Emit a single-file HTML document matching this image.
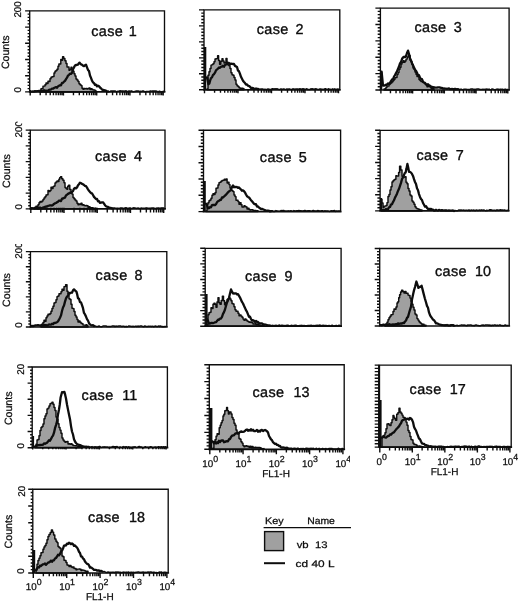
<!DOCTYPE html>
<html lang="en"><head><meta charset="utf-8"><title>FL1-H histograms</title>
<style>html,body{margin:0;padding:0;background:#fff}svg{display:block}text{font-family:'Liberation Sans', Arial, Helvetica, sans-serif;fill:#0d0d0d;text-rendering:geometricPrecision}.b{stroke:#0d0d0d;stroke-width:.36px}.s{stroke:#0d0d0d;stroke-width:.25px}</style></head><body>
<svg width="520" height="602" viewBox="0 0 520 602">
<rect width="520" height="602" fill="#fff"/>
<g><polygon points="40,91.9 40,90.2 41,90.2 41,88.8 42,88.8 42,88.5 43,88.5 43,86.1 44,86.1 44,86.1 45,86.1 45,84.7 46,84.7 46,82.9 47,82.9 47,83.4 48,83.4 48,81.1 49,81.1 49,81.4 50,81.4 50,78.8 51,78.8 51,77.3 52,77.3 52,76.8 53,76.8 53,76.5 54,76.5 54,72.9 55,72.9 55,71.2 56,71.2 56,70.4 57,70.4 57,69.3 58,69.3 58,66.2 58.9,66.2 58.9,64 59.8,64 59.8,64 60.8,64 60.8,59.5 61.7,59.5 61.7,60.2 62.6,60.2 62.6,56.8 63.7,56.8 63.7,58.5 64.9,58.5 64.9,60.7 66,60.7 66,63.4 67,63.4 67,66.9 68,66.9 68,67 69,67 69,70.2 70,70.2 70,69.2 71,69.2 71,67.2 72,67.2 72,70.2 73,70.2 73,71.2 74,71.2 74,73.7 75,73.7 75,75.9 76,75.9 76,79 77,79 77,80 78,80 78,81.4 79,81.4 79,83.7 80,83.7 80,84.7 81,84.7 81,85.6 82,85.6 82,88.2 83,88.2 83,89.3 84,89.3 84,88.4 85,88.4 85,88.7 86,88.7 86,88.4 87,88.4 87,88.9 88,88.9 88,88.4 89,88.4 89,88 90,88 90,89.5 91,89.5 91,88.6 92,88.6 92,89.4 93,89.4 93,90.1 94,90.1 94,89.9 95,89.9 95,90.6 96,90.6 96,91 96,91.9" fill="#a0a0a0" stroke="#0d0d0d" stroke-width="1.45" stroke-linejoin="round"/><polyline points="30,91.1 31,91.7 32,91.7 33,91.5 34,91.7 35,91.1 36,91.4 37,91.2 38,91.1 39,91 40,91.3 41,91.3 42,90.8 43,90.9 44,90.2 45,90.8 46,90.7 47,91 48,90.7 49,89.8 50,89.6 51,89.5 52,88.6 53,88.7 54,88 55,87.5 56,87.1 57,87.7 58,86.4 59,85.7 60,85.2 61,85.3 62,83 63,82.9 64,81.6 65,80.8 66,79.1 67,77.7 68,75.6 69,74.8 70,73.7 71,73.8 72,72.9 73,69.3 74,67.4 75,65.5 75.9,65 76.8,65 77.8,64.7 78.7,63.6 79.6,62.6 80.7,64.1 81.9,64.7 83,65.7 84,66.2 85,65.3 86,64.6 87,67.3 88,69.9 89,71.1 90,75.5 91,77.9 92,80.7 93,82.3 94,83.1 95,84.8 96,84.7 97,86.3 98,85.7 99,86.3 100,87.5 101,88.3 102,89.4 103,90 104,90.1 105,90.5 106,90.7 107,91.2 108,91.6" fill="none" stroke="#0d0d0d" stroke-width="2.3" stroke-linejoin="round" stroke-linecap="round"/><polyline points="108,91.2 109,91.7 110,91.5 111,91 112,91.1 113,91.1 114,91.1 115,90.9 116,91.5 117,91.7 118,91.2 119.1,91.2 120.1,90.8 121.1,90.9 122.1,91.1 123.1,91 124.1,91.5 125.1,90.9 126.1,90.8 127.1,91.6 128.2,91.3 129.2,90.9 130.2,91.3 131.2,90.8 132.2,91.3 133.2,91.7 134.2,91.6 135.2,91.4 136.2,91 137.2,91.1 138.2,91 139.3,91.5 140.3,91.3 141.3,91.5 142.3,91.1 143.3,91 144.3,91.5 145.3,91.7 146.3,91.6 147.3,91.5 148.3,91.6 149.4,91.5 150.4,91 151.4,91.3 152.4,91.1 153.4,90.9 154.4,90.9 155.4,91.1 156.4,91.1 157.4,91.5 158.4,91.7 159.5,91.2 160.5,91.7 161.5,91.7 162.5,91.7 163.5,91.3" fill="none" stroke="#0d0d0d" stroke-width="1.5" stroke-linejoin="round" stroke-linecap="round"/><path d="M29.7,91.9V10.9H164.5V91.9" fill="none" stroke="#0d0d0d" stroke-width="1.35" stroke-linejoin="miter"/><line x1="28.9" y1="91.9" x2="165.4" y2="91.9" stroke="#0d0d0d" stroke-width="1.7"/><path d="M29.7,91.9h-4.6M29.7,88.66h-2.1M29.7,85.42h-2.1M29.7,82.18h-2.1M29.7,78.94h-2.1M29.7,75.7h-4.6M29.7,72.46h-2.1M29.7,69.22h-2.1M29.7,65.98h-2.1M29.7,62.74h-2.1M29.7,59.5h-4.6M29.7,56.26h-2.1M29.7,53.02h-2.1M29.7,49.78h-2.1M29.7,46.54h-2.1M29.7,43.3h-4.6M29.7,40.06h-2.1M29.7,36.82h-2.1M29.7,33.58h-2.1M29.7,30.34h-2.1M29.7,27.1h-4.6M29.7,23.86h-2.1M29.7,20.62h-2.1M29.7,17.38h-2.1M29.7,14.14h-2.1M29.7,10.9h-4.6" stroke="#0d0d0d" stroke-width="1.4" fill="none"/><path d="M30.2,91.9v3.6M40.21,91.9v3.3M46.06,91.9v3.3M50.22,91.9v3.3M53.44,91.9v3.3M56.07,91.9v3.3M58.3,91.9v3.3M60.23,91.9v3.3M61.93,91.9v3.3M63.45,91.9v3.6M73.46,91.9v3.3M79.31,91.9v3.3M83.47,91.9v3.3M86.69,91.9v3.3M89.32,91.9v3.3M91.55,91.9v3.3M93.48,91.9v3.3M95.18,91.9v3.3M96.7,91.9v3.6M106.71,91.9v3.3M112.56,91.9v3.3M116.72,91.9v3.3M119.94,91.9v3.3M122.57,91.9v3.3M124.8,91.9v3.3M126.73,91.9v3.3M128.43,91.9v3.3M129.95,91.9v3.6M139.96,91.9v3.3M145.81,91.9v3.3M149.97,91.9v3.3M153.19,91.9v3.3M155.82,91.9v3.3M158.05,91.9v3.3M159.98,91.9v3.3M161.68,91.9v3.3M163.2,91.9v3.6" stroke="#0d0d0d" stroke-width="1.4" fill="none"/><text y="35.8" font-size="14.4" class="b"><tspan x="91.2" letter-spacing=".4">case</tspan><tspan x="136.7" text-anchor="end">1</tspan></text><g><text transform="translate(21.4,17.6) rotate(-90)" font-size="9.8" class="s">200</text></g><text transform="translate(21.1,89.9) rotate(-90)" font-size="9.8" text-anchor="middle" class="s">0</text><text transform="translate(9.2,52.3) rotate(-90)" font-size="10.6" text-anchor="middle" class="s">Counts</text></g>
<g><polygon points="207,89.8 207,88.9 208,88.9 208,75.2 209,75.2 209,71.8 210,71.8 210,68.4 211,68.4 211,65.1 212,65.1 212,64.6 213,64.6 213,63.7 214,63.7 214,61.8 215,61.8 215,58.9 215.9,58.9 215.9,58.8 216.7,58.8 216.7,58.6 217.6,58.6 217.6,55.8 218.6,55.8 218.6,60.5 219.6,60.5 219.6,64.2 220.8,64.2 220.8,61.3 222,61.3 222,58.8 223,58.8 223,60.9 224,60.9 224,63 225,63 225,62.4 226,62.4 226,58.5 227,58.5 227,62.2 228,62.2 228,65.1 229,65.1 229,65.7 230,65.7 230,68.4 231,68.4 231,72.7 232,72.7 232,74.7 233,74.7 233,75.3 234,75.3 234,77.5 235,77.5 235,80 236,80 236,84.2 237,84.2 237,85.7 238,85.7 238,86.5 239,86.5 239,87.7 240,87.7 240,88.2 241,88.2 241,88.1 242,88.1 242,88.2 243,88.2 243,88.7 244,88.7 244,89 244,89.8" fill="#a0a0a0" stroke="#0d0d0d" stroke-width="1.45" stroke-linejoin="round"/><polyline points="207,77.3 208.4,84.2 209.3,83.6 210.1,80.6 211,78.1 212,77.4 213,74.9 214,74.2 215,72.7 216,70.4 217,69.5 218,68.6 219,67.5 220,67.8 221,66.7 222,66.6 223,65.7 224,66.8 225,65 226,64.4 227,63.9 228,63.8 229,63 230,64.2 231,63.6 232,63.9 233,64 234,64 235,65.9 236,66.4 237,67 238,70.6 239,71.3 240,73.9 241,76.8 242,78.8 243,80.7 244,82 245,83.1 246,84.5 247,84.4 248,85.7 249,86 250,86.7 251,87.9 252,87.8 253,88.1 254,88.5 255,88.8 256,88.5 257,88.9 258,89" fill="none" stroke="#0d0d0d" stroke-width="2.3" stroke-linejoin="round" stroke-linecap="round"/><polyline points="258,89 259,89 260,89.2 261,89 262,89.1 263,89.1 264,89.5 265,89.3 266,89.4 267,89.5 268,88.9 269,89.2 270,89.5 271,89.4 272,88.8 273,88.8 274,89.1 275,88.7 276,88.9 277,88.7 278,89.3 279,89.4 280,89.5 281,88.8 281.9,89.3 282.9,89.3 283.9,88.8 284.9,89.5 285.9,89.6 286.9,88.9 287.9,89.5 288.9,89 289.9,89.1 290.9,89.6 291.9,89.4 292.9,88.8 293.9,89.1 294.9,89.2 295.9,89 296.9,88.9 297.9,89 298.9,89.3 299.9,88.7 300.9,89.2 301.9,89.1 302.9,88.7 303.9,89 304.9,89.3 305.9,89.2 306.9,88.8 307.9,89.6 308.9,89.4 309.9,89.6 310.9,88.8 311.9,89 312.9,88.8 313.9,89.4 314.9,89 315.9,88.8 316.9,89.1 317.9,89.5 318.9,89.5 319.9,89 320.8,88.9 321.8,89.6 322.8,89.2 323.8,89.4 324.8,88.8 325.8,88.8 326.8,89.4 327.8,89.1 328.8,88.8 329.8,89.6 330.8,89.3 331.8,89.5 332.8,88.8 333.8,89.5 334.8,88.8 335.8,89.5 336.8,89.2 337.8,89.1 338.8,89.2" fill="none" stroke="#0d0d0d" stroke-width="1.5" stroke-linejoin="round" stroke-linecap="round"/><rect x="204" y="47" width="2.3" height="42.8" fill="#0d0d0d"/><path d="M204,89.8V9.9H339.8V89.8" fill="none" stroke="#0d0d0d" stroke-width="1.35" stroke-linejoin="miter"/><line x1="203.2" y1="89.8" x2="340.7" y2="89.8" stroke="#0d0d0d" stroke-width="1.7"/><path d="M204,89.8h-5M204,86.6h-2.7M204,83.41h-2.7M204,80.21h-2.7M204,77.02h-2.7M204,73.82h-5M204,70.62h-2.7M204,67.43h-2.7M204,64.23h-2.7M204,61.04h-2.7M204,57.84h-5M204,54.64h-2.7M204,51.45h-2.7M204,48.25h-2.7M204,45.06h-2.7M204,41.86h-5M204,38.66h-2.7M204,35.47h-2.7M204,32.27h-2.7M204,29.08h-2.7M204,25.88h-5M204,22.68h-2.7M204,19.49h-2.7M204,16.29h-2.7M204,13.1h-2.7M204,9.9h-5" stroke="#0d0d0d" stroke-width="1.4" fill="none"/><path d="M204.5,89.8v3.4M214.58,89.8v3M220.48,89.8v3M224.67,89.8v3M227.92,89.8v3M230.57,89.8v3M232.81,89.8v3M234.75,89.8v3M236.47,89.8v3M238,89.8v3.4M248.08,89.8v3M253.98,89.8v3M258.17,89.8v3M261.42,89.8v3M264.07,89.8v3M266.31,89.8v3M268.25,89.8v3M269.97,89.8v3M271.5,89.8v3.4M281.58,89.8v3M287.48,89.8v3M291.67,89.8v3M294.92,89.8v3M297.57,89.8v3M299.81,89.8v3M301.75,89.8v3M303.47,89.8v3M305,89.8v3.4M315.08,89.8v3M320.98,89.8v3M325.17,89.8v3M328.42,89.8v3M331.07,89.8v3M333.31,89.8v3M335.25,89.8v3M336.97,89.8v3M338.5,89.8v3.4" stroke="#0d0d0d" stroke-width="1.4" fill="none"/><text y="34.4" font-size="14.4" class="b"><tspan x="256.7" letter-spacing=".4">case</tspan><tspan x="303.5" text-anchor="end">2</tspan></text></g>
<g><polygon points="384,90 384,89 385,89 385,88.6 386,88.6 386,87.2 387,87.2 387,86.1 388,86.1 388,86.1 389,86.1 389,84.6 390,84.6 390,83.4 391,83.4 391,82.7 392,82.7 392,81.7 393,81.7 393,80.5 394,80.5 394,79.2 395,79.2 395,77.6 396,77.6 396,77.4 397,77.4 397,74.4 398,74.4 398,72.6 399,72.6 399,69.2 400,69.2 400,67.3 401,67.3 401,64 402,64 402,62.3 403,62.3 403,60.8 404,60.8 404,62.2 405,62.2 405,60.9 406,60.9 406,59.1 407.2,59.1 407.2,56.9 408.4,56.9 408.4,55.3 409.3,55.3 409.3,55.5 410.1,55.5 410.1,60.3 411,60.3 411,61.8 412,61.8 412,64.5 413,64.5 413,68 414,68 414,69.2 415,69.2 415,72 416,72 416,74.2 417,74.2 417,76.6 418,76.6 418,76.3 419,76.3 419,79.4 420,79.4 420,80.6 421,80.6 421,81.4 422,81.4 422,81.7 423,81.7 423,82.5 424,82.5 424,82.7 425,82.7 425,84.1 426,84.1 426,85.1 427,85.1 427,86.8 428,86.8 428,86.4 429,86.4 429,86.6 430,86.6 430,87 431,87 431,88.2 432,88.2 432,88.6 433,88.6 433,88.8 434,88.8 434,89 434,90" fill="#a0a0a0" stroke="#0d0d0d" stroke-width="1.45" stroke-linejoin="round"/><polyline points="381.6,71.6 383,85.7 384,85.5 385,85.4 386,84.7 387,84.9 388,83.5 389,83.9 390,82.9 391,81.1 392,79.5 393,79.4 394,76.6 395,75.2 396,73 397,71.3 398,68.9 399,66.5 400,63.4 401,62 402,59 403,57.5 404,56.8 405,57.1 406,56.1 407,53 408,50.6 409,54 410,58.2 411,60.4 412,63.2 413,65.3 414,67.4 415,69.8 416,70.8 417,72.7 418,75.4 419,75.1 420,77.6 421,78.9 422,79.1 423,81.6 424,82.5 425,82.9 426,84 427,85 428,84.2 429,85.3 430,85.7 431,86.6 432,86.9 433,87.3 434,87.2 435,87.6 436,87.6 437,87.7 438,87.4 439,87.3 440,87.5 441,87.9 442,87.8 443,88.6 444,88.5 445,88.6 446,88.7 447,88.8 448,88.7 449,88.3 450,89.1 451,89.1 452,89 453,89.1 454,89.3 455,88.8 456,89.5 457,89.1 458,89.4" fill="none" stroke="#0d0d0d" stroke-width="2.3" stroke-linejoin="round" stroke-linecap="round"/><polyline points="458,89 459,89.2 460,89.6 461,89.1 462,89.5 463,89.7 464,89.3 465,89.2 466,89.3 467,89.5 468,89.6 469,89.4 470,89.4 471,88.9 472,89 473,89.1 474,89.5 475,89.2 476,89.4 477,88.9 478,88.9 479,89.1 480,89.5 481,89.5 482,89.5 483,89.2 484,89.4 485,89.3 486.1,89.3 487.1,89 488.1,89.7 489.1,89.1 490.1,89.8 491.1,89.8 492.1,88.9 493.1,89.3 494.1,89.7 495.1,89.8 496.1,89.3 497.1,89.2 498.1,89.1 499.1,89.8 500.1,89.1 501.1,89.5 502.1,89.1 503.1,89.4 504.1,89.8 505.1,89.1 506.1,89.7 507.1,89.4 508.1,89.4" fill="none" stroke="#0d0d0d" stroke-width="1.5" stroke-linejoin="round" stroke-linecap="round"/><rect x="380.4" y="72" width="1.9" height="18" fill="#0d0d0d"/><path d="M380.4,90V8.1H509.1V90" fill="none" stroke="#0d0d0d" stroke-width="1.35" stroke-linejoin="miter"/><line x1="379.6" y1="90" x2="510" y2="90" stroke="#0d0d0d" stroke-width="1.7"/><path d="M380.4,90h-5M380.4,86.72h-2.7M380.4,83.45h-2.7M380.4,80.17h-2.7M380.4,76.9h-2.7M380.4,73.62h-5M380.4,70.34h-2.7M380.4,67.07h-2.7M380.4,63.79h-2.7M380.4,60.52h-2.7M380.4,57.24h-5M380.4,53.96h-2.7M380.4,50.69h-2.7M380.4,47.41h-2.7M380.4,44.14h-2.7M380.4,40.86h-5M380.4,37.58h-2.7M380.4,34.31h-2.7M380.4,31.03h-2.7M380.4,27.76h-2.7M380.4,24.48h-5M380.4,21.2h-2.7M380.4,17.93h-2.7M380.4,14.65h-2.7M380.4,11.38h-2.7M380.4,8.1h-5" stroke="#0d0d0d" stroke-width="1.4" fill="none"/><path d="M380.9,90v3.6M390.45,90v3.2M396.04,90v3.2M400,90v3.2M403.07,90v3.2M405.59,90v3.2M407.71,90v3.2M409.55,90v3.2M411.17,90v3.2M412.62,90v3.6M422.18,90v3.2M427.76,90v3.2M431.73,90v3.2M434.8,90v3.2M437.31,90v3.2M439.44,90v3.2M441.28,90v3.2M442.9,90v3.2M444.35,90v3.6M453.9,90v3.2M459.49,90v3.2M463.45,90v3.2M466.52,90v3.2M469.04,90v3.2M471.16,90v3.2M473,90v3.2M474.62,90v3.2M476.07,90v3.6M485.63,90v3.2M491.21,90v3.2M495.18,90v3.2M498.25,90v3.2M500.76,90v3.2M502.89,90v3.2M504.73,90v3.2M506.35,90v3.2M507.8,90v3.6" stroke="#0d0d0d" stroke-width="1.4" fill="none"/><text y="31.7" font-size="14.4" class="b"><tspan x="414.4" letter-spacing=".4">case</tspan><tspan x="461.8" text-anchor="end">3</tspan></text></g>
<g><polygon points="34,208.9 34,208.3 35,208.3 35,207.4 36,207.4 36,206.1 37,206.1 37,206.3 38,206.3 38,204.8 39,204.8 39,202.8 40,202.8 40,201.5 41,201.5 41,202 42,202 42,200.9 43,200.9 43,199.4 44,199.4 44,197.9 45,197.9 45,196.8 46,196.8 46,194.9 47,194.9 47,194.8 48,194.8 48,190.5 49,190.5 49,191.6 50,191.6 50,190.6 51,190.6 51,187.3 52,187.3 52,188.5 53,188.5 53,186.6 54,186.6 54,186 55,186 55,183 56,183 56,182 57,182 57,180.9 58,180.9 58,181.5 58.9,181.5 58.9,179.3 59.7,179.3 59.7,177.6 60.6,177.6 60.6,176.8 61.7,176.8 61.7,178.7 62.9,178.7 62.9,180.3 64,180.3 64,182.8 65,182.8 65,187.5 66,187.5 66,188.4 66.9,188.4 66.9,189.3 67.7,189.3 67.7,186.2 68.6,186.2 68.6,185.3 69.8,185.3 69.8,189.5 71,189.5 71,192.1 72,192.1 72,194.1 73,194.1 73,197.4 74,197.4 74,198.7 75,198.7 75,199.9 76,199.9 76,200.9 77,200.9 77,203.3 78,203.3 78,204.8 79,204.8 79,204 80,204 80,204.6 81,204.6 81,203.3 82,203.3 82,205 83,205 83,204.7 84,204.7 84,205.5 85,205.5 85,205.7 86,205.7 86,205.5 87,205.5 87,205.7 88,205.7 88,207.2 89,207.2 89,206.8 90,206.8 90,207.6 91,207.6 91,207.6 92,207.6 92,207.7 93,207.7 93,208.2 94,208.2 94,208.6 95,208.6 95,208.1 96,208.1 96,208.4 96,208.9" fill="#a0a0a0" stroke="#0d0d0d" stroke-width="1.45" stroke-linejoin="round"/><polyline points="31,208.6 32,208.1 33,208.3 34,208.1 35,207.8 36,207.8 37,207.7 38,208.4 39,207.9 40,207.6 41,208.2 42,208.2 43,207.6 44,207.2 45,207 46,206.5 47,206.5 48,205.9 49,205.7 50,205.4 51,205.4 52,205.5 53,204.9 54,203.9 55,203.3 56,203 57,202.3 58,201.7 59,200.6 60,200.6 61,201.1 62,198.6 63,198.5 64,197.9 65,197.6 66,195.4 67,194.7 68,193.9 69,193.4 70,192.7 71,192.9 72,191.9 73,191.1 74,188.6 75,187.9 76,188.4 77,187.5 78,185.3 79,184.2 80,182.7 81,183.1 82,183.9 83,184.3 84,185 85,185.9 86,186.2 87,187.6 88,189.3 89,190.8 90,191.9 91,193.1 92,193.4 93,195 94,196.9 95,197.9 96,199 97,198.9 98,201.3 99,201.1 100,202.8 101,202.6 102,202.3 103,202.3 104,203.6 105,205.2 106,206.2 107,206.6 108,206.9 109,207.6 110,207.9 111,208 112,208.4" fill="none" stroke="#0d0d0d" stroke-width="2.3" stroke-linejoin="round" stroke-linecap="round"/><polyline points="112,208.2 113,208.5 114,207.9 115,208.1 116,208.2 117,208.6 118,208.3 119,208.5 120,208.2 121,208 122,208 123,208.6 124,208.4 125,208 126,207.8 127,208.2 128,208.4 129,208.2 130,208 131,208.4 132,208.6 133,208 134,207.8 135,208.1 136,208.2 137,208.4 138,208 139,208.5 140,208.5 141,208.3 142,208 143,208.7 144,208.1 145,208.5 146,208 147,208 148,208.5 149,208.1 150,208.7 151,208.3 152,208 153,208 154,208.2 155,208.4 156,208.7 157,208 158,208.2 159,208 160,208.7 161,208 162,207.9 163,207.9 164,208.3" fill="none" stroke="#0d0d0d" stroke-width="1.5" stroke-linejoin="round" stroke-linecap="round"/><path d="M30.3,208.9V130.1H165V208.9" fill="none" stroke="#0d0d0d" stroke-width="1.35" stroke-linejoin="miter"/><line x1="29.5" y1="208.9" x2="165.9" y2="208.9" stroke="#0d0d0d" stroke-width="1.7"/><path d="M30.3,208.9h-4.6M30.3,205.75h-2.1M30.3,202.6h-2.1M30.3,199.44h-2.1M30.3,196.29h-2.1M30.3,193.14h-4.6M30.3,189.99h-2.1M30.3,186.84h-2.1M30.3,183.68h-2.1M30.3,180.53h-2.1M30.3,177.38h-4.6M30.3,174.23h-2.1M30.3,171.08h-2.1M30.3,167.92h-2.1M30.3,164.77h-2.1M30.3,161.62h-4.6M30.3,158.47h-2.1M30.3,155.32h-2.1M30.3,152.16h-2.1M30.3,149.01h-2.1M30.3,145.86h-4.6M30.3,142.71h-2.1M30.3,139.56h-2.1M30.3,136.4h-2.1M30.3,133.25h-2.1M30.3,130.1h-4.6" stroke="#0d0d0d" stroke-width="1.4" fill="none"/><path d="M30.8,207.7v5.4M40.8,207.7v4.8M46.65,207.7v4.8M50.8,207.7v4.8M54.02,207.7v4.8M56.65,207.7v4.8M58.88,207.7v4.8M60.81,207.7v4.8M62.5,207.7v4.8M64.02,207.7v5.4M74.03,207.7v4.8M79.88,207.7v4.8M84.03,207.7v4.8M87.25,207.7v4.8M89.88,207.7v4.8M92.1,207.7v4.8M94.03,207.7v4.8M95.73,207.7v4.8M97.25,207.7v5.4M107.25,207.7v4.8M113.1,207.7v4.8M117.25,207.7v4.8M120.47,207.7v4.8M123.1,207.7v4.8M125.33,207.7v4.8M127.26,207.7v4.8M128.95,207.7v4.8M130.47,207.7v5.4M140.48,207.7v4.8M146.33,207.7v4.8M150.48,207.7v4.8M153.7,207.7v4.8M156.33,207.7v4.8M158.55,207.7v4.8M160.48,207.7v4.8M162.18,207.7v4.8M163.7,207.7v5.4" stroke="#0d0d0d" stroke-width="1.4" fill="none"/><text y="161.3" font-size="14.4" class="b"><tspan x="95" letter-spacing=".4">case</tspan><tspan x="142.1" text-anchor="end">4</tspan></text><g><text transform="translate(22,137.4) rotate(-90)" font-size="9.8" class="s">200</text></g><rect x="17.6" y="114" width="7" height="9.5" fill="#fff"/><text transform="translate(21.7,206.9) rotate(-90)" font-size="9.8" text-anchor="middle" class="s">0</text><text transform="translate(9.8,171.1) rotate(-90)" font-size="10.6" text-anchor="middle" class="s">Counts</text></g>
<g><polygon points="206,211.6 206,210.9 207,210.9 207,204.2 208,204.2 208,202.7 209,202.7 209,200.7 210,200.7 210,200 211,200 211,198.3 212,198.3 212,195.2 213,195.2 213,193.6 214,193.6 214,194.6 215,194.6 215,192.7 216,192.7 216,188.3 217,188.3 217,188 218,188 218,184.9 219,184.9 219,182.6 220,182.6 220,182.2 221,182.2 221,181.3 222,181.3 222,180.5 223.1,180.5 223.1,180.2 224.3,180.2 224.3,179.3 225.4,179.3 225.4,180 226.3,180 226.3,178.9 227.1,178.9 227.1,182.9 228,182.9 228,182.1 229,182.1 229,184.6 230,184.6 230,188 231,188 231,190 232,190 232,190.8 233,190.8 233,191.6 234,191.6 234,194.9 235,194.9 235,196.6 236,196.6 236,200.3 237,200.3 237,200.1 238,200.1 238,201.6 239,201.6 239,204.2 240,204.2 240,202.6 241,202.6 241,204.7 242,204.7 242,206.9 243,206.9 243,207.1 244,207.1 244,205.8 245,205.8 245,206.4 246,206.4 246,207 247,207 247,209 248,209 248,208.3 249,208.3 249,209.5 250,209.5 250,210 251,210 251,209.7 252,209.7 252,209.8 253,209.8 253,210.6 254,210.6 254,210.5 255,210.5 255,210.4 256,210.4 256,211 257,211 257,210.8 258,210.8 258,211.2 258,211.6" fill="#a0a0a0" stroke="#0d0d0d" stroke-width="1.45" stroke-linejoin="round"/><polyline points="206,203.6 207,205.1 208,208.3 209,208.1 210,207.2 211,207.3 212,205.1 213,205 214,205 215,205.1 216,204.2 217,202.3 218,201.2 219,200.7 220,200 221,199.9 222,197.4 223,197.6 224,196.5 225,195.6 226,194.7 227,193.6 228,192.3 229,191.4 230,190.7 231,189.9 232,186.8 233,185.4 234,187.2 235,186.8 236,187.1 237,187 238,187.9 239,187.4 240,188.6 241,189.5 242,190.8 243,190.4 244,191.2 245,192.4 246,194.5 247,196.2 248,196.9 249,197.5 250,198.8 251,200.2 252,201.3 253,202.5 254,203.7 255,204.3 256,204.2 257,206.5 258,206.4 259,207.6 260,208.3 261,209 262,208.9 263,209.3 264,209.7 265,210.1 266,210.9 267,210.7 268,210.6 269,210.8 270,211.4 271,211.1 272,211.2" fill="none" stroke="#0d0d0d" stroke-width="2.3" stroke-linejoin="round" stroke-linecap="round"/><polyline points="272,211 273,211.4 274,211.2 275,211.4 276,210.6 277,210.9 278,211.2 279,211.2 280,211.3 281,210.5 282,210.7 283,210.6 284,210.6 284.9,211.3 285.9,211 286.9,211.3 287.9,210.8 288.9,211.2 289.9,210.9 290.9,210.7 291.9,211.2 292.9,211.3 293.9,210.6 294.9,211 295.9,211 296.9,210.7 297.9,210.8 298.9,210.6 299.9,210.7 300.8,210.7 301.8,211 302.8,211.1 303.8,210.7 304.8,210.5 305.8,210.8 306.8,211.1 307.8,210.7 308.8,210.8 309.8,210.7 310.8,211.2 311.8,211 312.8,210.6 313.8,210.6 314.8,210.9 315.8,211 316.7,211.1 317.7,210.6 318.7,210.7 319.7,211.1 320.7,210.9 321.7,210.8 322.7,210.8 323.7,211.4 324.7,210.8 325.7,211 326.7,210.9 327.7,210.9 328.7,211.3 329.7,211.4 330.7,210.9 331.7,210.7 332.6,211.2 333.6,210.7 334.6,210.5 335.6,211.4 336.6,210.9 337.6,211.3 338.6,210.9 339.6,211" fill="none" stroke="#0d0d0d" stroke-width="1.5" stroke-linejoin="round" stroke-linecap="round"/><rect x="203.5" y="181" width="2.3" height="30.6" fill="#0d0d0d"/><path d="M203.5,211.6V130.2H340.6V211.6" fill="none" stroke="#0d0d0d" stroke-width="1.35" stroke-linejoin="miter"/><line x1="202.7" y1="211.6" x2="341.5" y2="211.6" stroke="#0d0d0d" stroke-width="1.7"/><path d="M203.5,211.6h-5M203.5,208.34h-2.7M203.5,205.09h-2.7M203.5,201.83h-2.7M203.5,198.58h-2.7M203.5,195.32h-5M203.5,192.06h-2.7M203.5,188.81h-2.7M203.5,185.55h-2.7M203.5,182.3h-2.7M203.5,179.04h-5M203.5,175.78h-2.7M203.5,172.53h-2.7M203.5,169.27h-2.7M203.5,166.02h-2.7M203.5,162.76h-5M203.5,159.5h-2.7M203.5,156.25h-2.7M203.5,152.99h-2.7M203.5,149.74h-2.7M203.5,146.48h-5M203.5,143.22h-2.7M203.5,139.97h-2.7M203.5,136.71h-2.7M203.5,133.46h-2.7M203.5,130.2h-5" stroke="#0d0d0d" stroke-width="1.4" fill="none"/><text y="161.7" font-size="14.4" class="b"><tspan x="259.8" letter-spacing=".4">case</tspan><tspan x="306.7" text-anchor="end">5</tspan></text></g>
<g><polygon points="381,210.9 381,199.1 382,199.1 382,202.9 383,202.9 383,207.5 384,207.5 384,206.1 385,206.1 385,206.1 386,206.1 386,205.4 387,205.4 387,202.6 388,202.6 388,196.4 389,196.4 389,194.4 390,194.4 390,189.9 391,189.9 391,186.7 392,186.7 392,181.9 393,181.9 393,180.7 394,180.7 394,179.7 395,179.7 395,179.3 395.9,179.3 395.9,175.8 396.7,175.8 396.7,176 397.6,176 397.6,175.9 398.6,175.9 398.6,172.4 399.6,172.4 399.6,166.1 400.8,166.1 400.8,169.9 402,169.9 402,176.3 403,176.3 403,177.4 404,177.4 404,176.9 405,176.9 405,176.7 406,176.7 406,182.3 407,182.3 407,183.7 408,183.7 408,188.5 409,188.5 409,191 410,191 410,195 411,195 411,196 412,196 412,200.9 413,200.9 413,202.2 414,202.2 414,204.2 415,204.2 415,206.8 416,206.8 416,208.1 417,208.1 417,208.7 418,208.7 418,209 419,209 419,209.5 420,209.5 420,209.9 421,209.9 421,210 422,210 422,210.4 422,210.9" fill="#a0a0a0" stroke="#0d0d0d" stroke-width="1.45" stroke-linejoin="round"/><polyline points="382,210 383,209.9 384,210.2 385,210.1 386,209 387,209.3 388,209.3 389,207.3 390,207 391,204.5 392,204.2 393,202.1 394,200.3 395,197.6 396,195.8 397,193.7 398,190.9 399,188.8 400,185.9 401,182.9 402,179 403,177.2 403.9,175.3 404.7,173.1 405.6,172.5 406.5,168.6 407.4,163.9 408.2,167.4 409,171.9 410,171.9 411,172.6 412,173.9 413,175.9 414,179.2 415,182 416,184.1 417,188.3 418,190.2 419,194.1 420,196.9 421,199 422,200.1 423,203 424,204.8 425,206.6 426,206.2 427,207.9 428,208.9 429,208.9 430,209.2 431,208.9 432,209.9 433,209.7 434,210.5 435,210.5 436,209.8 437,210.4 438,210.6 439,209.8 440,210.2 441,210.6 442,210.1 443,210.7 444,210.3 445,210.7 446,210.2 447,210.7 448,210.7 449,210.5 450,210.6 451,210.7 452,210.7 453,210.5 454,211" fill="none" stroke="#0d0d0d" stroke-width="2.3" stroke-linejoin="round" stroke-linecap="round"/><polyline points="454,210.7 455,210.5 456,210.7 457,210.7 458,210.7 459,209.9 460,210.5 461,209.9 462,210.2 463,210.3 464,210.1 465,210.5 465.9,210.3 466.9,210.3 467.9,210.6 468.9,209.9 469.9,210.7 470.9,210.3 471.9,210.1 472.9,210.5 473.9,210 474.9,210.7 475.9,210.3 476.9,210.1 477.8,210.5 478.8,210.2 479.8,210 480.8,210.5 481.8,209.8 482.8,210.5 483.8,210 484.8,210.4 485.8,210.7 486.8,210.3 487.8,210.4 488.8,210.1 489.7,209.8 490.7,209.8 491.7,210 492.7,210.4 493.7,210.2 494.7,210.3 495.7,210.6 496.7,209.9 497.7,210 498.7,210.4 499.7,209.9 500.7,209.8 501.6,210.2 502.6,209.9 503.6,210.2 504.6,210 505.6,210.4 506.6,210.4 507.6,210.3" fill="none" stroke="#0d0d0d" stroke-width="1.5" stroke-linejoin="round" stroke-linecap="round"/><rect x="380.1" y="198" width="1.9" height="12.9" fill="#0d0d0d"/><path d="M380.1,210.9V130.3H508.6V210.9" fill="none" stroke="#0d0d0d" stroke-width="1.35" stroke-linejoin="miter"/><line x1="379.3" y1="210.9" x2="509.5" y2="210.9" stroke="#0d0d0d" stroke-width="1.7"/><path d="M380.1,210.9h-5M380.1,207.68h-2.7M380.1,204.45h-2.7M380.1,201.23h-2.7M380.1,198h-2.7M380.1,194.78h-5M380.1,191.56h-2.7M380.1,188.33h-2.7M380.1,185.11h-2.7M380.1,181.88h-2.7M380.1,178.66h-5M380.1,175.44h-2.7M380.1,172.21h-2.7M380.1,168.99h-2.7M380.1,165.76h-2.7M380.1,162.54h-5M380.1,159.32h-2.7M380.1,156.09h-2.7M380.1,152.87h-2.7M380.1,149.64h-2.7M380.1,146.42h-5M380.1,143.2h-2.7M380.1,139.97h-2.7M380.1,136.75h-2.7M380.1,133.52h-2.7M380.1,130.3h-5" stroke="#0d0d0d" stroke-width="1.4" fill="none"/><text y="159.7" font-size="14.4" class="b"><tspan x="416.4" letter-spacing=".4">case</tspan><tspan x="463.8" text-anchor="end">7</tspan></text></g>
<g><polygon points="41,327 41,324.7 42,324.7 42,324 43,324 43,322.4 44,322.4 44,320.2 45,320.2 45,321.3 46,321.3 46,317.7 47,317.7 47,315.9 48,315.9 48,314.3 49,314.3 49,314.4 50,314.4 50,313.4 51,313.4 51,311.3 52,311.3 52,308.5 53,308.5 53,306.3 54,306.3 54,303 55,303 55,302.4 56,302.4 56,299.7 57,299.7 57,296.6 58,296.6 58,295.9 59,295.9 59,293.8 60,293.8 60,293.8 61,293.8 61,291.7 62,291.7 62,289.2 63,289.2 63,290.2 64,290.2 64,286.6 64.8,286.6 64.8,286.6 65.6,286.6 65.6,284.7 67,284.7 67,291.2 68,291.2 68,293.7 69,293.7 69,298.8 70,298.8 70,299.5 71,299.5 71,304.2 72,304.2 72,308.3 73,308.3 73,308.6 74,308.6 74,311.4 75,311.4 75,315.3 76,315.3 76,317 77,317 77,319.4 78,319.4 78,321.9 79,321.9 79,321 80,321 80,322.3 81,322.3 81,323.2 82,323.2 82,323.8 83,323.8 83,325.1 84,325.1 84,325.1 85,325.1 85,325.2 86,325.2 86,324.8 87,324.8 87,325.7 88,325.7 88,325.6 88,327" fill="#a0a0a0" stroke="#0d0d0d" stroke-width="1.45" stroke-linejoin="round"/><polyline points="31,326.2 32,325.9 33,326.1 34,325.8 35,325.5 36,325.3 37,325.4 38,325.1 39,325.4 40,325.7 41,325.6 42,325.7 43,325.5 44,325 45,325.2 46,325.1 47,325.3 48,325 49,324.5 50,324.6 51,324.7 52,323.7 53,324.2 54,322.9 55,323 56,322.6 57,322.2 58,321.4 59,319.7 60,317.7 61,315.4 62,311 63,307.5 64,305.5 65,301.6 66,298.4 67,296.7 68,295.6 69,292.9 70,293.3 71,292.7 72,292.7 73,290.4 74,289.4 75.2,290.6 76.4,291.6 77.2,294.4 78,298.2 79,298.8 80,302.2 81,302.3 82,305.1 83,308.2 84,312.9 85,314.4 86,316.6 87,319.1 88,320.6 89,323.2 90,324.5 91,325 92,325.4 93,325.2 94,326" fill="none" stroke="#0d0d0d" stroke-width="2.3" stroke-linejoin="round" stroke-linecap="round"/><polyline points="94,326.1 95,325.9 96,326.4 97,326.5 98,326.6 99,325.9 100,326.6 101,326.7 102,326.7 103,326 104,326 105,326 106,325.9 107,326.6 108,326.6 109,326.4 110,326.6 111,326.4 112,326.1 113,326 114,326 115,326.6 115.9,326.1 116.9,326.2 117.9,326.3 118.9,325.9 119.9,326.1 120.9,326.1 121.9,326.5 122.9,326.2 123.9,326.2 124.9,326.8 125.9,326.3 126.9,326.7 127.9,326.4 128.9,325.9 129.9,326.3 130.9,326.3 131.9,326.6 132.9,326.2 133.9,326.5 134.9,326.4 135.9,326.1 136.9,326.7 137.9,326 138.9,326.6 139.9,326.1 140.9,325.9 141.9,326.1 142.9,326.6 143.9,326.8 144.9,325.9 145.9,326.4 146.9,326.4 147.9,326.6 148.9,326.1 149.8,326.4 150.8,326.2 151.8,326.7 152.8,326.2 153.8,326.8 154.8,326.2 155.8,326.1 156.8,326.6 157.8,326.4 158.8,326 159.8,326.5 160.8,326 161.8,326.7 162.8,326.6 163.8,326.7 164.8,326.5 165.8,326.4" fill="none" stroke="#0d0d0d" stroke-width="1.5" stroke-linejoin="round" stroke-linecap="round"/><path d="M30.45,327V251.6H166.8V327" fill="none" stroke="#0d0d0d" stroke-width="1.35" stroke-linejoin="miter"/><line x1="29.65" y1="327" x2="167.7" y2="327" stroke="#0d0d0d" stroke-width="1.7"/><path d="M30.45,327h-4.6M30.45,323.98h-2.1M30.45,320.97h-2.1M30.45,317.95h-2.1M30.45,314.94h-2.1M30.45,311.92h-4.6M30.45,308.9h-2.1M30.45,305.89h-2.1M30.45,302.87h-2.1M30.45,299.86h-2.1M30.45,296.84h-4.6M30.45,293.82h-2.1M30.45,290.81h-2.1M30.45,287.79h-2.1M30.45,284.78h-2.1M30.45,281.76h-4.6M30.45,278.74h-2.1M30.45,275.73h-2.1M30.45,272.71h-2.1M30.45,269.7h-2.1M30.45,266.68h-4.6M30.45,263.66h-2.1M30.45,260.65h-2.1M30.45,257.63h-2.1M30.45,254.62h-2.1M30.45,251.6h-4.6" stroke="#0d0d0d" stroke-width="1.4" fill="none"/><text y="280.1" font-size="14.4" class="b"><tspan x="95.6" letter-spacing=".4">case</tspan><tspan x="142.5" text-anchor="end">8</tspan></text><clipPath id="c1"><rect x="0" y="244" width="40" height="40"/></clipPath><g clip-path="url(#c1)"><text transform="translate(22.15,258.7) rotate(-90)" font-size="9.8" class="s">200</text></g><text transform="translate(21.85,325) rotate(-90)" font-size="9.8" text-anchor="middle" class="s">0</text><text transform="translate(9.95,290.1) rotate(-90)" font-size="10.6" text-anchor="middle" class="s">Counts</text></g>
<g><polygon points="207,326.2 207,324.9 208,324.9 208,314.7 209,314.7 209,312.7 210,312.7 210,312.2 211,312.2 211,307.8 212,307.8 212,308.5 213,308.5 213,304.2 214,304.2 214,303.1 215,303.1 215,304.3 216,304.3 216,307.2 217,307.2 217,302 218,302 218,297.6 219,297.6 219,302.7 220,302.7 220,304.2 221.2,304.2 221.2,300.4 222.4,300.4 222.4,296.1 223.5,296.1 223.5,300.8 224.6,300.8 224.6,304.8 225.8,304.8 225.8,302.4 227,302.4 227,299.5 228,299.5 228,298.8 229,298.8 229,297.6 230,297.6 230,299 231,299 231,300.8 232,300.8 232,303.4 233,303.4 233,304 234,304 234,306.8 235,306.8 235,309.8 236,309.8 236,311.2 237,311.2 237,311.1 238,311.1 238,313.3 239,313.3 239,315.8 240,315.8 240,315 241,315 241,316.1 242,316.1 242,317.2 243,317.2 243,319.1 244,319.1 244,320.3 245,320.3 245,319 246,319 246,319.9 247,319.9 247,321 248,321 248,321.5 249,321.5 249,322.2 250,322.2 250,321.9 251,321.9 251,322.5 252,322.5 252,322.6 253,322.6 253,324.1 254,324.1 254,324 255,324 255,323.6 256,323.6 256,324.6 257,324.6 257,324 258,324 258,324.4 259,324.4 259,325.1 260,325.1 260,325.2 261,325.2 261,325.3 262,325.3 262,325.2 263,325.2 263,325.1 264,325.1 264,325.6 264,326.2" fill="#a0a0a0" stroke="#0d0d0d" stroke-width="1.45" stroke-linejoin="round"/><polyline points="207,319.3 208,320.9 209,323.7 210,323.6 211,323 212,323 213,323.2 214,322.8 215,322.3 216,322.2 217,321.1 218,319.7 219,319.8 220,318.6 221,318.5 222,316.8 223,313.9 224,312.1 225,309.5 226,305.8 227,302.5 228,300.4 229,297.8 230,293.5 231,289.4 232,291.7 233,293.4 234,293.5 235,293.4 236,293.4 237,294.3 238,294.2 239,295.8 240,297.6 241,299.8 242,301.9 243,303.5 244,305.8 245,307.9 246,310.2 247,311.8 248,314.4 249,316.9 250,316.7 251,319 252,320.6 253,320.2 254,320.8 255,322 256,320.9 257,322.1 258,321.9 259,323 260,323.5 261,323.4 262,323.3 263,324.1 264,324.3 265,324.7 266,324.7 267,325.1 268,325.5 269,325.4 270,325.6" fill="none" stroke="#0d0d0d" stroke-width="2.3" stroke-linejoin="round" stroke-linecap="round"/><polyline points="270,325.5 271,326 272,325.3 273,325.7 274,325.4 275,325.7 276,325.2 277,325.9 278,325.4 279,325.1 280,325.3 281,325.4 282,325.1 283,325.4 284,325.4 285,325.7 286,325.4 287,325.3 288,325.3 289,325.7 290,325.9 291,325.5 292,325.3 293,325.8 294,325.4 295,325.3 296,325.2 297,325.8 298,325.8 299,325.7 300,325.5 301,325.6 302,325.3 303,326 304,325.4 305,325.7 306,325.8 307,325.8 308.1,325.5 309.1,325.4 310.1,325.6 311.1,325.2 312.1,325.9 313.1,325.4 314.1,325.9 315.1,325.4 316.1,325.5 317.1,325.3 318.1,325.5 319.1,325.3 320.1,325.1 321.1,325.8 322.1,325.4 323.1,325.3 324.1,325.4 325.1,325.6 326.1,325.5 327.1,325.7 328.1,325.7 329.1,325.5 330.1,326 331.1,325.9 332.1,325.2 333.1,325.9 334.1,326 335.1,325.8 336.1,325.3 337.1,325.9 338.1,325.7 339.1,325.2 340.1,325.6" fill="none" stroke="#0d0d0d" stroke-width="1.5" stroke-linejoin="round" stroke-linecap="round"/><rect x="205.2" y="294" width="2.4" height="32.2" fill="#0d0d0d"/><path d="M205.2,326.2V248.3H341.1V326.2" fill="none" stroke="#0d0d0d" stroke-width="1.35" stroke-linejoin="miter"/><line x1="204.4" y1="326.2" x2="342" y2="326.2" stroke="#0d0d0d" stroke-width="1.7"/><path d="M205.2,326.2h-5M205.2,323.08h-2.7M205.2,319.97h-2.7M205.2,316.85h-2.7M205.2,313.74h-2.7M205.2,310.62h-5M205.2,307.5h-2.7M205.2,304.39h-2.7M205.2,301.27h-2.7M205.2,298.16h-2.7M205.2,295.04h-5M205.2,291.92h-2.7M205.2,288.81h-2.7M205.2,285.69h-2.7M205.2,282.58h-2.7M205.2,279.46h-5M205.2,276.34h-2.7M205.2,273.23h-2.7M205.2,270.11h-2.7M205.2,267h-2.7M205.2,263.88h-5M205.2,260.76h-2.7M205.2,257.65h-2.7M205.2,254.53h-2.7M205.2,251.42h-2.7M205.2,248.3h-5" stroke="#0d0d0d" stroke-width="1.4" fill="none"/><text y="280.5" font-size="14.4" class="b"><tspan x="245" letter-spacing=".4">case</tspan><tspan x="292.5" text-anchor="end">9</tspan></text></g>
<g><polygon points="385,326 385,324.6 386,324.6 386,324.1 387,324.1 387,322.3 388,322.3 388,319.8 389,319.8 389,317.8 390,317.8 390,316.2 391,316.2 391,314.7 392,314.7 392,314.6 393,314.6 393,311.5 394,311.5 394,309 395,309 395,309.2 396,309.2 396,306.9 397,306.9 397,303 397.9,303 397.9,301.8 398.7,301.8 398.7,297.7 399.6,297.7 399.6,294.8 400.6,294.8 400.6,292 401.6,292 401.6,290.2 402.8,290.2 402.8,291.4 404,291.4 404,293 405,293 405,291.4 406,291.4 406,293.2 407,293.2 407,293.1 408,293.1 408,295.1 409,295.1 409,295.5 410,295.5 410,298.1 411,298.1 411,301.2 412,301.2 412,304.3 413,304.3 413,307.2 414,307.2 414,309.9 415,309.9 415,314 416,314 416,315 417,315 417,318.6 418,318.6 418,320.1 419,320.1 419,321.8 420,321.8 420,322.7 421,322.7 421,323.6 422,323.6 422,324.7 423,324.7 423,324.2 424,324.2 424,325.2 425,325.2 425,325.1 426,325.1 426,325.4 426,326" fill="#a0a0a0" stroke="#0d0d0d" stroke-width="1.45" stroke-linejoin="round"/><polyline points="380,325.1 381,325.1 382,325.3 383,324.7 384,324.7 385,325.2 386,324.3 387,324.8 388,324.8 389,324.1 390,324.7 391,324.7 392,324.9 393,324.3 394,324.9 395,324.3 396,324.1 397,324.4 398,323.4 399,323.9 400,323.7 401,323.3 402,323.6 403,323 404,323 405,321.5 406,320.5 407,317.9 408,316.9 409,313.2 410,309.8 411,306.7 412,299.6 413,294.7 414,290.3 415,287 416.4,281.5 417.4,284.5 418.4,287.9 419.5,287 420.5,286.9 421.6,285.7 422.6,289.6 423.6,293.6 424.8,298.2 426,302.3 427,305.9 428,307.7 429,312.4 430,315.1 431,316.8 432,318.1 433,319.6 434,320.2 435,321.6 436,323.4 437,323.4 438,323.8 439,324.3 440,324.7 441,324.8 442,325.1 443,325.2 444,325.3 445,325.2 446,325.4 447,325 448,325.5 449,325.3 450,325.7 451,325.1 452,325.2 453,325.1 454,325.6" fill="none" stroke="#0d0d0d" stroke-width="2.3" stroke-linejoin="round" stroke-linecap="round"/><polyline points="454,325.8 455,325.8 456,325.6 457,325.3 458,325.7 459,325.6 460,325.4 461,325.1 462,325.1 463,325.2 464,325.1 465,325.2 466,325.4 467,325.7 468,324.9 469,325.4 470,324.9 471,325 472.1,325.6 473.1,325.4 474.1,325.7 475.1,325.3 476.1,324.9 477.1,325.2 478.1,325.4 479.1,325.7 480.1,325.8 481.1,325.3 482.1,325.3 483.1,325 484.1,325.5 485.1,325.1 486.1,325 487.1,324.9 488.1,324.9 489.1,325.5 490.1,325 491.1,325.8 492.1,325 493.1,325.7 494.1,325 495.1,324.9 496.2,325.6 497.2,325.1 498.2,325.6 499.2,325.1 500.2,325 501.2,325.6 502.2,325.6 503.2,325.7 504.2,325.6 505.2,325 506.2,325.5 507.2,325.6 508.2,325.4" fill="none" stroke="#0d0d0d" stroke-width="1.5" stroke-linejoin="round" stroke-linecap="round"/><path d="M379.7,326V248.5H509.2V326" fill="none" stroke="#0d0d0d" stroke-width="1.35" stroke-linejoin="miter"/><line x1="378.9" y1="326" x2="510.1" y2="326" stroke="#0d0d0d" stroke-width="1.7"/><path d="M379.7,326h-5M379.7,322.9h-2.7M379.7,319.8h-2.7M379.7,316.7h-2.7M379.7,313.6h-2.7M379.7,310.5h-5M379.7,307.4h-2.7M379.7,304.3h-2.7M379.7,301.2h-2.7M379.7,298.1h-2.7M379.7,295h-5M379.7,291.9h-2.7M379.7,288.8h-2.7M379.7,285.7h-2.7M379.7,282.6h-2.7M379.7,279.5h-5M379.7,276.4h-2.7M379.7,273.3h-2.7M379.7,270.2h-2.7M379.7,267.1h-2.7M379.7,264h-5M379.7,260.9h-2.7M379.7,257.8h-2.7M379.7,254.7h-2.7M379.7,251.6h-2.7M379.7,248.5h-5" stroke="#0d0d0d" stroke-width="1.4" fill="none"/><text y="275.8" font-size="14.4" class="b"><tspan x="434.9" letter-spacing=".4">case</tspan><tspan x="491.1" text-anchor="end">10</tspan></text></g>
<g><polygon points="35,447.7 35,446 36,446 36,444.3 37,444.3 37,439.9 38,439.9 38,439.4 39,439.4 39,435.7 40,435.7 40,430.5 41,430.5 41,427.5 42,427.5 42,426.5 43,426.5 43,424 44,424 44,418.7 45,418.7 45,415.9 46,415.9 46,413.7 47,413.7 47,409 48,409 48,408.1 49,408.1 49,406 50,406 50,403.7 51,403.7 51,403.1 52,403.1 52,402.2 53,402.2 53,404.3 54,404.3 54,407.5 55,407.5 55,410.4 56,410.4 56,416.9 57,416.9 57,419.3 58,419.3 58,423.8 59,423.8 59,427.4 60,427.4 60,430.1 61,430.1 61,433.3 62,433.3 62,437.9 63,437.9 63,440 64,440 64,441.2 65,441.2 65,442.2 66,442.2 66,441.8 67,441.8 67,441.5 68,441.5 68,444.1 69,444.1 69,443.7 70,443.7 70,444.3 71,444.3 71,443.7 72,443.7 72,444.6 73,444.6 73,445.5 74,445.5 74,445.6 75,445.6 75,445.7 76,445.7 76,445.8 77,445.8 77,446.1 78,446.1 78,446.7 79,446.7 79,446.4 80,446.4 80,446.8 81,446.8 81,446.9 82,446.9 82,447 82,447.7" fill="#a0a0a0" stroke="#0d0d0d" stroke-width="1.45" stroke-linejoin="round"/><polyline points="35,446.8 36,446.4 37,445.6 38,445.1 39,445.1 40,445 41,444.9 42,444.9 43,444.7 44,443.4 45,443.8 46,443.2 47,442.7 48,441.5 49,440.2 50,440.7 51,438.9 52,436.9 53,435.6 54,432.7 55,428.2 56,425.1 57,421.6 58,414.4 59,409.5 59.8,404.4 60.6,397.5 62,392.2 63.2,392.4 64.4,391.9 65.2,394.9 66,398.5 67,404.5 68,409.6 69,414.4 70,419.2 71,426.1 72,431.5 73,434.5 74,439.2 75,441.5 76,443 77,444 78,444.5 79,445 80,445.1 81,445.6 82,446.1 83,446.7 84,446.5 85,446.8 86,446.7 87,446.9 88,447" fill="none" stroke="#0d0d0d" stroke-width="2.3" stroke-linejoin="round" stroke-linecap="round"/><polyline points="88,446.7 89,446.6 90,447.4 91,446.9 92,446.6 93,447.1 94,447.3 95,446.7 96,447.1 97,446.9 98,447 99,446.6 100,446.6 101,447.5 102,447.3 103.1,447 104.1,447.1 105.1,446.8 106.1,447.3 107.1,447 108.1,447.4 109.1,447.3 110.1,447.3 111.1,447.4 112.1,446.8 113.1,446.6 114.1,446.8 115.1,446.7 116.1,446.7 117.1,446.6 118.1,447.1 119.1,447.4 120.1,447 121.2,447.4 122.2,447.4 123.2,446.6 124.2,447.1 125.2,447 126.2,446.7 127.2,447.5 128.2,446.8 129.2,447.1 130.2,447.2 131.2,447.5 132.2,447.2 133.2,447 134.2,447 135.2,446.8 136.2,447.5 137.2,447.5 138.2,446.8 139.3,446.6 140.3,446.8 141.3,446.9 142.3,447.4 143.3,447.4 144.3,447.4 145.3,446.7 146.3,447.3 147.3,447.3 148.3,447.2 149.3,447.5 150.3,446.7 151.3,446.8 152.3,447.3 153.3,447.5 154.3,447.2 155.3,446.9 156.3,447.2 157.4,447.3 158.4,446.7 159.4,446.9 160.4,446.9 161.4,446.8 162.4,447.1 163.4,446.8 164.4,446.9 165.4,446.8 166.4,447.1" fill="none" stroke="#0d0d0d" stroke-width="1.5" stroke-linejoin="round" stroke-linecap="round"/><rect x="32.2" y="436" width="1.9" height="11.7" fill="#0d0d0d"/><path d="M32.2,447.7V367H167.4V447.7" fill="none" stroke="#0d0d0d" stroke-width="1.35" stroke-linejoin="miter"/><line x1="31.4" y1="447.7" x2="168.3" y2="447.7" stroke="#0d0d0d" stroke-width="1.7"/><path d="M32.2,447.7h-4.6M32.2,444.47h-2.1M32.2,441.24h-2.1M32.2,438.02h-2.1M32.2,434.79h-2.1M32.2,431.56h-4.6M32.2,428.33h-2.1M32.2,425.1h-2.1M32.2,421.88h-2.1M32.2,418.65h-2.1M32.2,415.42h-4.6M32.2,412.19h-2.1M32.2,408.96h-2.1M32.2,405.74h-2.1M32.2,402.51h-2.1M32.2,399.28h-4.6M32.2,396.05h-2.1M32.2,392.82h-2.1M32.2,389.6h-2.1M32.2,386.37h-2.1M32.2,383.14h-4.6M32.2,379.91h-2.1M32.2,376.68h-2.1M32.2,373.46h-2.1M32.2,370.23h-2.1M32.2,367h-4.6" stroke="#0d0d0d" stroke-width="1.4" fill="none"/><path d="M32.7,447.7v1.8M42.74,447.7v1.6M48.61,447.7v1.6M52.78,447.7v1.6M56.01,447.7v1.6M58.65,447.7v1.6M60.88,447.7v1.6M62.82,447.7v1.6M64.52,447.7v1.6M66.05,447.7v1.8M76.09,447.7v1.6M81.96,447.7v1.6M86.13,447.7v1.6M89.36,447.7v1.6M92,447.7v1.6M94.23,447.7v1.6M96.17,447.7v1.6M97.87,447.7v1.6M99.4,447.7v1.8M109.44,447.7v1.6M115.31,447.7v1.6M119.48,447.7v1.6M122.71,447.7v1.6M125.35,447.7v1.6M127.58,447.7v1.6M129.52,447.7v1.6M131.22,447.7v1.6M132.75,447.7v1.8M142.79,447.7v1.6M148.66,447.7v1.6M152.83,447.7v1.6M156.06,447.7v1.6M158.7,447.7v1.6M160.93,447.7v1.6M162.87,447.7v1.6M164.57,447.7v1.6M166.1,447.7v1.8" stroke="#0d0d0d" stroke-width="1.4" fill="none"/><text y="399.8" font-size="14.4" class="b"><tspan x="81.6" letter-spacing=".4">case</tspan><tspan x="137.3" text-anchor="end">11</tspan></text><g><text transform="translate(23.9,374.7) rotate(-90)" font-size="9.8" class="s">20</text></g><text transform="translate(23.6,445.7) rotate(-90)" font-size="9.8" text-anchor="middle" class="s">0</text><text transform="translate(11.7,408.3) rotate(-90)" font-size="10.6" text-anchor="middle" class="s">Counts</text></g>
<g><polygon points="212.8,449.3 212.8,448.2 213.9,448.2 213.9,442.1 215,442.1 215,439.7 216.1,439.7 216.1,436.1 217.1,436.1 217.1,433.6 218.2,433.6 218.2,434.3 219.2,434.3 219.2,427.7 220.2,427.7 220.2,425.3 221.1,425.3 221.1,422.8 222.1,422.8 222.1,420.5 223,420.5 223,415.9 223.9,415.9 223.9,414.3 224.8,414.3 224.8,410.8 225.7,410.8 225.7,410.5 226.6,410.5 226.6,407.4 227.5,407.4 227.5,410.6 228.4,410.6 228.4,413.9 229.2,413.9 229.2,412 230,412 230,412 231,412 231,413.9 232,413.9 232,417.4 233,417.4 233,419.4 234,419.4 234,423.2 235,423.2 235,425.3 236,425.3 236,430 237,430 237,432.2 238,432.2 238,433.6 239,433.6 239,438.4 240,438.4 240,439.3 241,439.3 241,441.7 242,441.7 242,443.1 243,443.1 243,445.6 244,445.6 244,446.7 245,446.7 245,446 246,446 246,445.8 247,445.8 247,446.4 248,446.4 248,446.3 249,446.3 249,447.2 250,447.2 250,446.3 251,446.3 251,447.5 252,447.5 252,446.5 253,446.5 253,447.5 254,447.5 254,447.4 255,447.4 255,447.1 256,447.1 256,447.4 257,447.4 257,447.4 258,447.4 258,447.5 259,447.5 259,447.5 260,447.5 260,447.8 261,447.8 261,448.5 262,448.5 262,448.6 263,448.6 263,448.7 264,448.7 264,448.4 264,449.3" fill="#a0a0a0" stroke="#0d0d0d" stroke-width="1.45" stroke-linejoin="round"/><polyline points="212,441.2 213,441.8 214,443.3 215,441.9 216,443.5 217,442.2 218,443.2 219,440.8 220,442 221,440.7 222,440.5 223,440.4 224,442.3 225,441.9 226,441.4 227,441.1 228,441.3 229,439.2 230,439.1 231,436.9 232,435.7 233,435.5 234,435.2 235,433.9 236,433.4 237,433.2 238,433.7 239,433 240,432 241,431.4 242,431.9 243,431.8 244,431.7 245,430.9 246,429.8 247,429.5 248,430.7 249,430 250,430.6 251,429.2 252,430.6 253,429.8 254,431 255,431.2 256,430.7 257,429.9 258,431.8 259,430.8 260,431.5 261,430.2 262,429.9 263,431.1 264,430.3 265,430 266,430.6 267,431.2 268,432.5 269,436 270,437.6 271,439.4 272,440.2 273,442.2 274,443.1 275,444 276,443.7 277,444.9 278,445 279,446.1 280,446 281,447.4 282,447.7 283,447.4 284,447.6 285,447.8 286,448 287,447.7 288,448.4" fill="none" stroke="#0d0d0d" stroke-width="2.3" stroke-linejoin="round" stroke-linecap="round"/><polyline points="288,448.8 289,448.2 290,448.2 291,448.2 292,448.3 293,448.9 294,448.2 295,448.2 296,448.8 297,448.3 298,448.2 299,448.7 300,448.7 301,448.6 302,448.8 303,448.3 304,449 305,448.8 306.1,448.2 307.1,448.3 308.1,448.6 309.1,448.6 310.1,448.4 311.1,448.3 312.1,448.6 313.1,448.3 314.1,448.7 315.1,449 316.1,448.3 317.1,448.7 318.1,448.9 319.1,448.3 320.1,448.9 321.1,449 322.1,448.6 323.1,448.6 324.1,449 325.1,448.7 326.1,448.6 327.1,449.1 328.1,448.9 329.1,448.5 330.1,448.4 331.2,448.5 332.2,448.6 333.2,449.1 334.2,449 335.2,449.1 336.2,449 337.2,449 338.2,448.3 339.2,448.7 340.2,449.1 341.2,449.1 342.2,448.5 343.2,448.7" fill="none" stroke="#0d0d0d" stroke-width="1.5" stroke-linejoin="round" stroke-linecap="round"/><rect x="209.3" y="408" width="3.1" height="41.3" fill="#0d0d0d"/><path d="M209.3,449.3V364.7H344.2V449.3" fill="none" stroke="#0d0d0d" stroke-width="1.35" stroke-linejoin="miter"/><line x1="208.5" y1="449.3" x2="345.1" y2="449.3" stroke="#0d0d0d" stroke-width="1.7"/><path d="M209.3,449.3h-5M209.3,445.92h-2.7M209.3,442.53h-2.7M209.3,439.15h-2.7M209.3,435.76h-2.7M209.3,432.38h-5M209.3,429h-2.7M209.3,425.61h-2.7M209.3,422.23h-2.7M209.3,418.84h-2.7M209.3,415.46h-5M209.3,412.08h-2.7M209.3,408.69h-2.7M209.3,405.31h-2.7M209.3,401.92h-2.7M209.3,398.54h-5M209.3,395.16h-2.7M209.3,391.77h-2.7M209.3,388.39h-2.7M209.3,385h-2.7M209.3,381.62h-5M209.3,378.24h-2.7M209.3,374.85h-2.7M209.3,371.47h-2.7M209.3,368.08h-2.7M209.3,364.7h-5" stroke="#0d0d0d" stroke-width="1.4" fill="none"/><path d="M209.8,449.3v5M219.82,449.3v3.3M225.68,449.3v3.3M229.83,449.3v3.3M233.06,449.3v3.3M235.69,449.3v3.3M237.92,449.3v3.3M239.85,449.3v3.3M241.55,449.3v3.3M243.07,449.3v5M253.09,449.3v3.3M258.95,449.3v3.3M263.11,449.3v3.3M266.33,449.3v3.3M268.97,449.3v3.3M271.2,449.3v3.3M273.13,449.3v3.3M274.83,449.3v3.3M276.35,449.3v5M286.37,449.3v3.3M292.23,449.3v3.3M296.38,449.3v3.3M299.61,449.3v3.3M302.24,449.3v3.3M304.47,449.3v3.3M306.4,449.3v3.3M308.1,449.3v3.3M309.62,449.3v5M319.64,449.3v3.3M325.5,449.3v3.3M329.66,449.3v3.3M332.88,449.3v3.3M335.52,449.3v3.3M337.75,449.3v3.3M339.68,449.3v3.3M341.38,449.3v3.3M342.9,449.3v5" stroke="#0d0d0d" stroke-width="1.4" fill="none"/><text y="396.6" font-size="14.4" class="b"><tspan x="252.5" letter-spacing=".4">case</tspan><tspan x="309.5" text-anchor="end">13</tspan></text><clipPath id="c2"><rect x="190" y="440" width="159.9" height="50"/></clipPath><g clip-path="url(#c2)"><text x="210.2" y="466.9" font-size="9.8" text-anchor="middle" class="s">10<tspan dy="-5.1" font-size="8.8">0</tspan></text><text x="243.47" y="466.9" font-size="9.8" text-anchor="middle" class="s">10<tspan dy="-5.1" font-size="8.8">1</tspan></text><text x="276.75" y="466.9" font-size="9.8" text-anchor="middle" class="s">10<tspan dy="-5.1" font-size="8.8">2</tspan></text><text x="310.02" y="466.9" font-size="9.8" text-anchor="middle" class="s">10<tspan dy="-5.1" font-size="8.8">3</tspan></text><text x="343.3" y="466.9" font-size="9.8" text-anchor="middle" class="s">10<tspan dy="-5.1" font-size="8.8">4</tspan></text></g><text x="276.05" y="477.2" font-size="10" text-anchor="middle" class="s">FL1-H</text></g>
<g><polygon points="381.6,447.1 381.6,446.9 382,446.9 382,437.4 383,437.4 383,435.6 384,435.6 384,435.1 385,435.1 385,432.7 386,432.7 386,428.8 387,428.8 387,424 388,424 388,423.6 389,423.6 389,424.9 390,424.9 390,425.4 391,425.4 391,422.8 392,422.8 392,419.8 393,419.8 393,415.4 393.9,415.4 393.9,417.3 394.7,417.3 394.7,418.8 395.6,418.8 395.6,420.2 396.7,420.2 396.7,414.3 397.9,414.3 397.9,412.8 399,412.8 399,408.3 400,408.3 400,412 401,412 401,413.3 402,413.3 402,415.1 403,415.1 403,417.3 404,417.3 404,417.4 405,417.4 405,418.8 406,418.8 406,422.1 407,422.1 407,425.3 408,425.3 408,430.4 409,430.4 409,432.4 410,432.4 410,436.4 411,436.4 411,439.4 412,439.4 412,439.9 413,439.9 413,443.2 414,443.2 414,444.5 415,444.5 415,444.5 416,444.5 416,445 417,445 417,446 418,446 418,446.2 419,446.2 419,446 420,446 420,446.2 421,446.2 421,446.4 422,446.4 422,446.7 423,446.7 423,446.9 424,446.9 424,447.2 424,447.1" fill="#a0a0a0" stroke="#0d0d0d" stroke-width="1.45" stroke-linejoin="round"/><polyline points="381.6,437.6 382.7,437.2 383.8,436.7 384.9,437.3 386,437.7 387,436.7 388,436.1 389,435.8 390,434.4 391,434.7 392,433.4 393,432.8 394,432.2 395,430.9 396,429.6 397,428.5 398,427.4 399,426.4 400,424.4 401,423.2 402,420.7 403,420 404,419.7 405,418.5 406,419.1 407,419 408,418.6 409,419.6 410,417.9 411,418.5 412,419.8 413,422.1 414,426.7 415,428.9 416,430.5 417,433.4 418,435.9 419,438.5 420,439.2 421,441.5 422,443.4 423,443.8 424,443.9 425,444.8 426,445.1 427,445.6 428,445.7 429,446.1 430,446.3 431,446.2 432,446.6 433,446.7 434,446.8 435,446.6 436,446.9 437,446.9 438,446.9 439,446.5 440,446.9 441,446.5 442,446.9 443,446.9 444,447.2" fill="none" stroke="#0d0d0d" stroke-width="2.3" stroke-linejoin="round" stroke-linecap="round"/><polyline points="444,446.9 445,446.9 446,446.9 447,446.6 448,446.8 449,446.7 450,446.5 451,446.3 452,446.4 453,446.4 454,446.6 455,446.2 456,446.3 457,446.5 458,446.3 459,446.3 460,446.7 461,446.7 462,446.4 463,446.4 464,446.1 465.1,446.2 466.1,446.1 467.1,446.5 468.1,446.5 469.1,446.1 470.1,446.8 471.1,446.3 472.1,446.7 473.1,446.7 474.1,446.9 475.1,446.2 476.1,446.4 477.1,446.8 478.1,446 479.1,446 480.1,446.5 481.1,446.5 482.1,446.8 483.1,446.7 484.1,446.5 485.1,446.9 486.1,446.5 487.1,446.5 488.1,446.6 489.1,446.4 490.1,446.3 491.1,446.6 492.1,446.3 493.1,446.9 494.1,446.6 495.2,446.5 496.2,446.1 497.2,446.4 498.2,446.4 499.2,446.5 500.2,446.6 501.2,446.8 502.2,446.9 503.2,446.5 504.2,446.4 505.2,446.6 506.2,446.9 507.2,446.4 508.2,446.5 509.2,446.8 510.2,446.5" fill="none" stroke="#0d0d0d" stroke-width="1.5" stroke-linejoin="round" stroke-linecap="round"/><rect x="379.3" y="400" width="2.3" height="47.1" fill="#0d0d0d"/><path d="M379.3,447.1V365.1H511.2V447.1" fill="none" stroke="#0d0d0d" stroke-width="1.35" stroke-linejoin="miter"/><line x1="378.5" y1="447.1" x2="512.1" y2="447.1" stroke="#0d0d0d" stroke-width="1.7"/><path d="M379.3,447.1h-4.6M379.3,443.82h-4.6M379.3,440.54h-4.6M379.3,437.26h-4.6M379.3,433.98h-4.6M379.3,430.7h-4.6M379.3,427.42h-4.6M379.3,424.14h-4.6M379.3,420.86h-4.6M379.3,417.58h-4.6M379.3,414.3h-4.6M379.3,411.02h-4.6M379.3,407.74h-4.6M379.3,404.46h-4.6M379.3,401.18h-4.6M379.3,397.9h-4.6M379.3,394.62h-4.6M379.3,391.34h-4.6M379.3,388.06h-4.6M379.3,384.78h-4.6M379.3,381.5h-4.6M379.3,378.22h-4.6M379.3,374.94h-4.6M379.3,371.66h-4.6M379.3,368.38h-4.6M379.3,365.1h-4.6" stroke="#0d0d0d" stroke-width="1.4" fill="none"/><line x1="379.1" y1="365.1" x2="379.1" y2="447.1" stroke="#0d0d0d" stroke-width="2.1"/><path d="M379.8,447.1v5.4M389.59,447.1v3.3M395.32,447.1v3.3M399.38,447.1v3.3M402.53,447.1v3.3M405.11,447.1v3.3M407.29,447.1v3.3M409.17,447.1v3.3M410.84,447.1v3.3M412.32,447.1v5.4M422.12,447.1v3.3M427.84,447.1v3.3M431.91,447.1v3.3M435.06,447.1v3.3M437.63,447.1v3.3M439.81,447.1v3.3M441.7,447.1v3.3M443.36,447.1v3.3M444.85,447.1v5.4M454.64,447.1v3.3M460.37,447.1v3.3M464.43,447.1v3.3M467.58,447.1v3.3M470.16,447.1v3.3M472.34,447.1v3.3M474.22,447.1v3.3M475.89,447.1v3.3M477.38,447.1v5.4M487.17,447.1v3.3M492.89,447.1v3.3M496.96,447.1v3.3M500.11,447.1v3.3M502.68,447.1v3.3M504.86,447.1v3.3M506.75,447.1v3.3M508.41,447.1v3.3M509.9,447.1v5.4" stroke="#0d0d0d" stroke-width="1.4" fill="none"/><text y="394.2" font-size="14.4" class="b"><tspan x="409.6" letter-spacing=".4">case</tspan><tspan x="465.8" text-anchor="end">17</tspan></text><clipPath id="c3"><rect x="376.2" y="440" width="150" height="50"/></clipPath><g clip-path="url(#c3)"><text x="378.9" y="464.8" font-size="9.8" text-anchor="middle" class="s">10<tspan dy="-5.1" font-size="8.8">0</tspan></text><text x="412.72" y="464.8" font-size="9.8" text-anchor="middle" class="s">10<tspan dy="-5.1" font-size="8.8">1</tspan></text><text x="445.25" y="464.8" font-size="9.8" text-anchor="middle" class="s">10<tspan dy="-5.1" font-size="8.8">2</tspan></text><text x="477.77" y="464.8" font-size="9.8" text-anchor="middle" class="s">10<tspan dy="-5.1" font-size="8.8">3</tspan></text><text x="510.3" y="464.8" font-size="9.8" text-anchor="middle" class="s">10<tspan dy="-5.1" font-size="8.8">4</tspan></text></g><text x="444.55" y="475.3" font-size="10" text-anchor="middle" class="s">FL1-H</text></g>
<g><polygon points="36,573 36,570 37,570 37,564.2 38,564.2 38,560.4 39,560.4 39,558.3 40,558.3 40,555.7 41,555.7 41,552.8 42,552.8 42,552.5 43,552.5 43,549.2 44,549.2 44,547 45,547 45,545.5 46,545.5 46,543.2 47,543.2 47,539.8 48,539.8 48,536.5 49,536.5 49,534.4 50.2,534.4 50.2,532.5 51.4,532.5 51.4,530 52.5,530 52.5,532.1 53.6,532.1 53.6,535 54.8,535 54.8,538.9 56,538.9 56,541.3 57,541.3 57,542.6 58,542.6 58,546.5 59,546.5 59,547.4 60,547.4 60,548.3 61,548.3 61,552.1 62,552.1 62,555.9 63,555.9 63,556.8 64,556.8 64,560.2 65,560.2 65,560.5 66,560.5 66,562.4 67,562.4 67,565 68,565 68,565.3 69,565.3 69,566.5 70,566.5 70,565.5 71,565.5 71,566.8 72,566.8 72,567.4 73,567.4 73,567 74,567 74,568.4 75,568.4 75,568.5 76,568.5 76,569.8 77,569.8 77,569.1 78,569.1 78,569.1 79,569.1 79,568.9 80,568.9 80,569.3 81,569.3 81,570.5 82,570.5 82,569.9 83,569.9 83,570.1 84,570.1 84,570.4 85,570.4 85,570.9 86,570.9 86,571.4 87,571.4 87,571.3 88,571.3 88,571.4 88,573" fill="#a0a0a0" stroke="#0d0d0d" stroke-width="1.45" stroke-linejoin="round"/><polyline points="36,570.3 37,568.4 38,567.2 39,567.5 40,565.6 41,566.1 42,565 43,564.3 44,564.2 45,563.5 46,564.8 47,563.7 48,562.7 49,562.4 50,561.8 51,560.6 52,561.8 53,560.4 54,560.3 55,558.5 56,558 57,556.5 58,554.8 59,555.4 60,554 61,551.6 62,550.8 63,548.6 64,545.6 65,545.5 66,545.4 67,543.7 68,543.9 69,542.7 70,543.3 71,544.2 72,543.4 73,544.1 74,545.8 75,545.5 76,546.6 77,547.5 78,549.3 79,551.7 80,553 81,556.3 82,556.6 83,558.6 84,559.2 85,561.6 86,562.8 87,563.8 88,564.1 89,565.2 90,567.7 91,567.5 92,568.1 93,568.9 94,569.8 95,569.9 96,569.9 97,570.7 98,570.5 99,570.5 100,571.3 101,570.8 102,571.4" fill="none" stroke="#0d0d0d" stroke-width="2.3" stroke-linejoin="round" stroke-linecap="round"/><polyline points="102,571.2 103,571.9 104,571.4 105,571.9 106,572.4 107,572.6 108,572 109,572.2 110,572.5 111,572.2 112,572.7 113,572 114,572.7 115,572.3 116,572.1 117,572.3 118,572 119,572.5 120,572.1 121,572.7 122,572.4 123.1,572.2 124.1,572.1 125.1,572.4 126.1,572.1 127.1,572.7 128.1,572 129.1,572.3 130.1,572.4 131.1,572.1 132.1,572.6 133.1,572.2 134.1,572.5 135.1,572.4 136.1,572.2 137.1,572.3 138.1,572 139.1,572.1 140.1,572.7 141.1,572.2 142.1,572.5 143.1,572 144.1,572.4 145.1,572.2 146.1,572.4 147.1,572.2 148.1,572 149.1,572.2 150.1,572.1 151.1,572 152.1,572.6 153.2,572.2 154.2,572.3 155.2,572.7 156.2,572.6 157.2,572.7 158.2,572.7 159.2,572.1 160.2,572.2 161.2,572 162.2,572.6 163.2,572.5 164.2,572.3 165.2,572.3 166.2,572.5 167.2,572.4" fill="none" stroke="#0d0d0d" stroke-width="1.5" stroke-linejoin="round" stroke-linecap="round"/><rect x="32.8" y="550" width="2.4" height="23" fill="#0d0d0d"/><path d="M32.8,573V489.2H168.2V573" fill="none" stroke="#0d0d0d" stroke-width="1.35" stroke-linejoin="miter"/><line x1="32" y1="573" x2="169.1" y2="573" stroke="#0d0d0d" stroke-width="1.7"/><path d="M32.8,573h-4.6M32.8,569.65h-2.1M32.8,566.3h-2.1M32.8,562.94h-2.1M32.8,559.59h-2.1M32.8,556.24h-4.6M32.8,552.89h-2.1M32.8,549.54h-2.1M32.8,546.18h-2.1M32.8,542.83h-2.1M32.8,539.48h-4.6M32.8,536.13h-2.1M32.8,532.78h-2.1M32.8,529.42h-2.1M32.8,526.07h-2.1M32.8,522.72h-4.6M32.8,519.37h-2.1M32.8,516.02h-2.1M32.8,512.66h-2.1M32.8,509.31h-2.1M32.8,505.96h-4.6M32.8,502.61h-2.1M32.8,499.26h-2.1M32.8,495.9h-2.1M32.8,492.55h-2.1M32.8,489.2h-4.6" stroke="#0d0d0d" stroke-width="1.4" fill="none"/><path d="M33.3,573v5M43.35,573v3.2M49.24,573v3.2M53.41,573v3.2M56.65,573v3.2M59.29,573v3.2M61.53,573v3.2M63.46,573v3.2M65.17,573v3.2M66.7,573v5M76.75,573v3.2M82.64,573v3.2M86.81,573v3.2M90.05,573v3.2M92.69,573v3.2M94.93,573v3.2M96.86,573v3.2M98.57,573v3.2M100.1,573v5M110.15,573v3.2M116.04,573v3.2M120.21,573v3.2M123.45,573v3.2M126.09,573v3.2M128.33,573v3.2M130.26,573v3.2M131.97,573v3.2M133.5,573v5M143.55,573v3.2M149.44,573v3.2M153.61,573v3.2M156.85,573v3.2M159.49,573v3.2M161.73,573v3.2M163.66,573v3.2M165.37,573v3.2M166.9,573v5" stroke="#0d0d0d" stroke-width="1.4" fill="none"/><text y="522.2" font-size="14.4" class="b"><tspan x="88" letter-spacing=".4">case</tspan><tspan x="145.1" text-anchor="end">18</tspan></text><clipPath id="c4"><rect x="0" y="485.6" width="40" height="40"/></clipPath><g clip-path="url(#c4)"><text transform="translate(24.5,496.7) rotate(-90)" font-size="9.8" class="s">20</text></g><text transform="translate(24.2,571) rotate(-90)" font-size="9.8" text-anchor="middle" class="s">0</text><text transform="translate(12.3,531.6) rotate(-90)" font-size="10.6" text-anchor="middle" class="s">Counts</text><g><text x="33.7" y="589.9" font-size="9.8" text-anchor="middle" class="s">10<tspan dy="-5.1" font-size="8.8">0</tspan></text><text x="67.1" y="589.9" font-size="9.8" text-anchor="middle" class="s">10<tspan dy="-5.1" font-size="8.8">1</tspan></text><text x="100.5" y="589.9" font-size="9.8" text-anchor="middle" class="s">10<tspan dy="-5.1" font-size="8.8">2</tspan></text><text x="133.9" y="589.9" font-size="9.8" text-anchor="middle" class="s">10<tspan dy="-5.1" font-size="8.8">3</tspan></text><text x="167.3" y="589.9" font-size="9.8" text-anchor="middle" class="s">10<tspan dy="-5.1" font-size="8.8">4</tspan></text></g><text x="99.8" y="600" font-size="10" text-anchor="middle" class="s">FL1-H</text></g>
<g>
<text x="265.1" y="524.4" font-size="9.6" class="s" textLength="18.7" lengthAdjust="spacingAndGlyphs" xml:space="preserve">Key</text>
<text x="307.2" y="524.4" font-size="9.6" class="s" textLength="27.7" lengthAdjust="spacingAndGlyphs" xml:space="preserve">Name</text>
<line x1="263.6" y1="527.6" x2="351" y2="527.6" stroke="#0d0d0d" stroke-width="1.4"/>
<rect x="264.6" y="531.6" width="19" height="19" fill="#a0a0a0" stroke="#0d0d0d" stroke-width="1.4"/>
<text x="296.7" y="547.8" font-size="9.6" class="s" textLength="30.8" lengthAdjust="spacingAndGlyphs" xml:space="preserve">vb  13</text>
<line x1="264" y1="563.2" x2="285" y2="563.2" stroke="#0d0d0d" stroke-width="2"/>
<text x="295.6" y="567" font-size="9.6" class="s" textLength="38.9" lengthAdjust="spacingAndGlyphs" xml:space="preserve">cd 40 L</text>
</g>
</svg></body></html>
